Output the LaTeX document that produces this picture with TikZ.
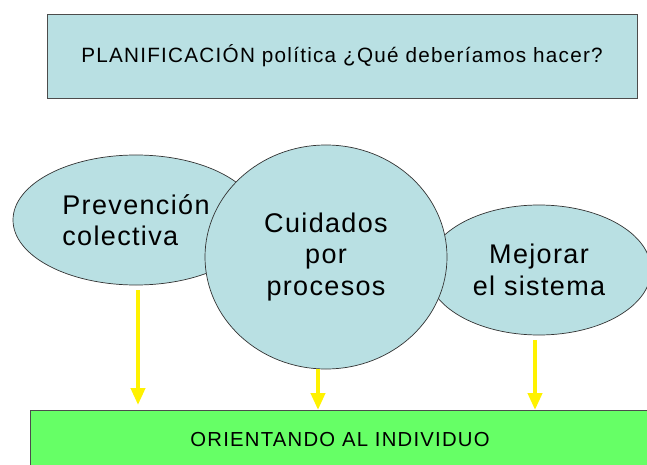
\documentclass[tikz,border=0pt]{standalone}
\usepackage{fontspec}
\setmainfont{Liberation Sans}
\newfontfamily\widesans[LetterSpace=6]{Liberation Sans}
\newfontfamily\bubblesans[LetterSpace=5]{Liberation Sans}
\usetikzlibrary{shapes.geometric,arrows.meta}
\definecolor{bubble}{RGB}{185,224,227}
\definecolor{lime}{RGB}{102,255,102}
\begin{document}
\begin{tikzpicture}[x=1pt, y=-1pt,
  box/.style={draw=black!70,line width=0.8pt,inner sep=0pt},
  bubbletext/.style={font=\bubblesans\fontsize{27}{31.5}\selectfont},
  blob/.style={ellipse,draw=black!80,line width=0.7pt,fill=bubble,inner sep=0pt,bubbletext},
  flow/.style={yellow,line width=4pt,-{Triangle[width=14pt,length=17pt]}}]
\clip (0,0) rectangle (647,465);
\fill[white] (0,0) rectangle (647,465);
\node[box,fill=bubble,minimum width=590,minimum height=84,
  font=\widesans\fontsize{20.7}{24}\selectfont] (plan) at (342,56)
  {PLANIFICACIÓN política ¿Qué deberíamos hacer?};
\node[blob,minimum width=246,minimum height=130,align=left] (prev) at (136,220)
  {Prevención\\colectiva};
\node[blob,minimum width=224,minimum height=130,align=center] (mejor) at (539,270)
  {Mejorar\\el sistema};
\node[blob,minimum width=242,minimum height=224,align=center] (cuid) at (326,257)
  {Cuidados\\por\\procesos};
\node[box,fill=lime,minimum width=630,minimum height=70,anchor=north west,
  font=\widesans\fontsize{21}{24}\selectfont] (goal) at (30,410) {};
\node[font=\widesans\fontsize{20.3}{24}\selectfont] (goaltext) at (340,440)
  {ORIENTANDO AL INDIVIDUO};

\draw[flow,shorten <=5pt,shorten >=5pt] ([xshift=2pt]prev.south) -- ([xshift=2pt]prev.south |- goal.north);
\draw[flow] ([xshift=-8pt]cuid.south) -- ([xshift=-8pt]cuid.south |- goal.north);
\draw[flow,shorten <=5pt] ([xshift=-4pt]mejor.south) -- ([xshift=-4pt]mejor.south |- goal.north);
\end{tikzpicture}
\end{document}
